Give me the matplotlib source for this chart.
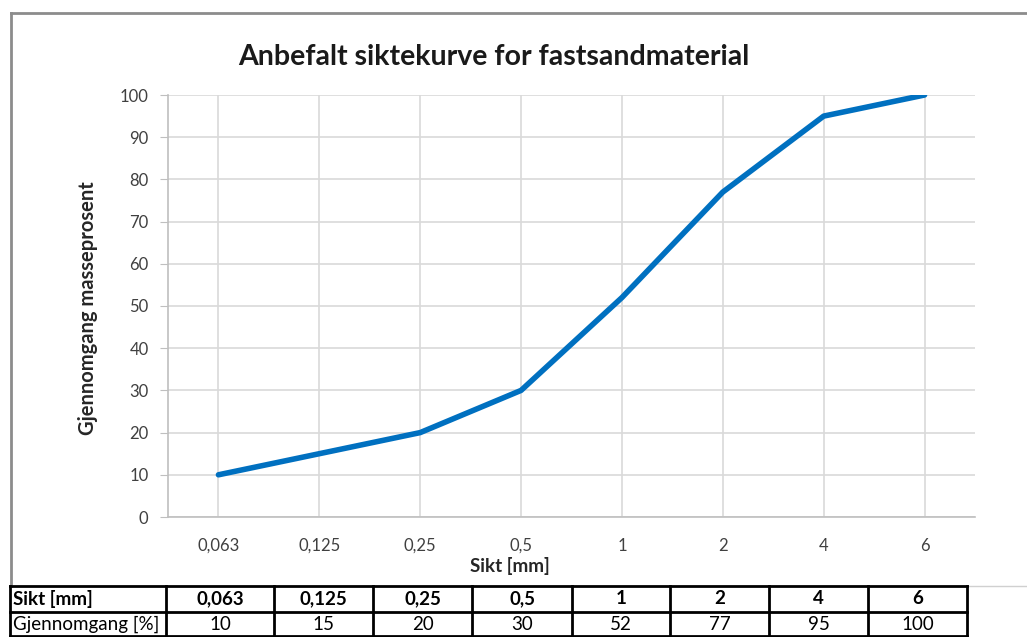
import matplotlib
matplotlib.use("Agg")
import matplotlib.pyplot as plt
from matplotlib.lines import Line2D
import numpy as np

# siktekurve data
sikt = ["0,063", "0,125", "0,25", "0,5", "1", "2", "4", "6"]
gjennomgang = [10, 15, 20, 30, 52, 77, 95, 100]
yticks = [0, 10, 20, 30, 40, 50, 60, 70, 80, 90, 100]

W, H = 1027, 637
fig = plt.figure(figsize=(W / 100, H / 100), dpi=100)
fig.patch.set_facecolor("white")

def fx(px):
    return px / W

def fy(py):
    return 1 - py / H

ax = fig.add_axes([fx(168), fy(517), fx(975) - fx(168), fy(95) - fy(517)])
x = np.arange(len(sikt))
ax.plot(x, gjennomgang, color="#0070C0", lw=4, solid_capstyle="round", solid_joinstyle="round", zorder=3)

ax.set_xlim(-0.5, len(sikt) - 0.5)
ax.set_ylim(0, 100)
ax.set_yticks(yticks)
ax.set_xticks(x)
ax.set_xticklabels(sikt)
ax.grid(True, color="#D9D9D9", lw=1.2)
ax.set_axisbelow(True)
for s in ["top", "right"]:
    ax.spines[s].set_visible(False)
for s in ["left", "bottom"]:
    ax.spines[s].set_color("#BFBFBF")
    ax.spines[s].set_linewidth(1.2)
ax.tick_params(axis="y", length=6, color="#BFBFBF", labelcolor="#404040", labelsize=12, pad=8)
ax.tick_params(axis="x", length=0, labelcolor="#404040", labelsize=12, pad=15)
for t in ax.get_xticklabels() + ax.get_yticklabels():
    t.set_fontfamily("Lato")

fig.text(fx(494), fy(57), "Anbefalt siktekurve for fastsandmaterial", ha="center", va="center",
         fontsize=20.5, fontweight="bold", family="Lato", color="#1a1a1a")
fig.text(fx(510), fy(566), "Sikt [mm]", ha="center", va="center",
         fontsize=13.5, fontweight="bold", family="Lato", color="#262626")
fig.text(fx(88), fy(308), "Gjennomgang masseprosent", ha="center", va="center", rotation=90,
         fontsize=14.5, fontweight="bold", family="Lato", color="#262626")

# ramme rundt diagrammet
gray = "#8C8C8C"
fig.add_artist(Line2D([fx(11), fx(1027)], [fy(13), fy(13)], color=gray, lw=2))
fig.add_artist(Line2D([fx(11), fx(11)], [fy(13), fy(586)], color=gray, lw=2))
fig.add_artist(Line2D([fx(967), fx(1027)], [fy(586), fy(586)], color="#D0D0D0", lw=1))

# tabell under diagrammet
cols = [10, 166, 274, 373, 472, 572, 670, 769, 868, 967]
rows = [586, 612, 636]
for r in rows:
    fig.add_artist(Line2D([fx(cols[0]), fx(cols[-1])], [fy(r), fy(r)], color="black", lw=2))
for c in cols:
    fig.add_artist(Line2D([fx(c), fx(c)], [fy(rows[0]), fy(rows[-1])], color="black", lw=2))

tfont = "Lato"
fig.text(fx(cols[0] + 3), fy((rows[0] + rows[1]) / 2), "Sikt [mm]", ha="left", va="center",
         fontsize=13.5, fontweight="bold", family=tfont)
fig.text(fx(cols[0] + 3), fy((rows[1] + rows[2]) / 2), "Gjennomgang [%]", ha="left", va="center",
         fontsize=13.5, family=tfont)
for i, (s, g) in enumerate(zip(sikt, gjennomgang)):
    cx = (cols[i + 1] + cols[i + 2]) / 2
    fig.text(fx(cx), fy((rows[0] + rows[1]) / 2), s, ha="center", va="center",
             fontsize=13.5, fontweight="bold", family=tfont)
    fig.text(fx(cx), fy((rows[1] + rows[2]) / 2), str(g), ha="center", va="center",
             fontsize=13.5, family=tfont)

fig.savefig("out.png", dpi=100)
